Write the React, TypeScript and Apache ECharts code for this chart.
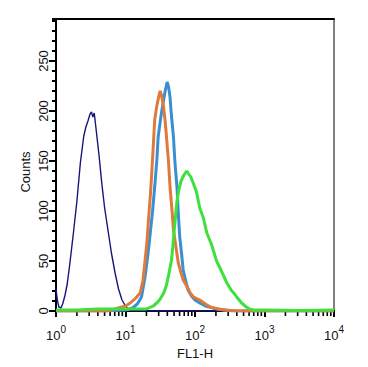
import React, { useEffect, useRef } from "react";
import * as echarts from "echarts";

// FL1-H values and counts for each histogram
const navyX = [1, 1.05, 1.1, 1.18, 1.26, 1.35, 1.45, 1.58, 1.78, 2, 2.24, 2.51, 2.69, 2.88, 3.09, 3.24, 3.39, 3.55, 3.8, 4.17, 4.57, 5.01, 5.62, 6.31, 7.08, 7.94, 8.91, 10, 11.2, 12.6, 30, 300, 10000];
const navyY = [22, 10, 4, 3, 8, 16, 27, 47, 78, 110, 148, 175, 184, 190, 197, 199, 194, 198, 180, 155, 127, 103, 80, 57, 38, 22, 11, 5, 1, 0, 0, 0, 0];

const blueX = [1, 5, 10, 12.6, 14.8, 17, 19.1, 20.9, 22.4, 24.5, 26.3, 28.2, 29.5, 32.4, 34.7, 37.2, 39.8, 41.7, 43.7, 45.7, 49, 51.3, 55, 57.5, 60.3, 64.6, 67.6, 74.1, 79.4, 89.1, 100, 117, 141, 182, 251, 355, 10000];
const blueY = [0, 0, 1, 3, 7, 14, 34, 55, 74, 100, 124, 150, 174, 195, 208, 220, 229, 224, 214, 196, 174, 150, 124, 98, 74, 55, 41, 29, 21, 15, 11, 8, 5, 3, 1, 0, 0];

const orangeX = [1, 5, 6.3, 7.9, 10, 11.7, 14.1, 16.2, 17.8, 19.1, 20.4, 21.4, 22.9, 24, 25.1, 26.3, 28.2, 30.2, 31.6, 33.1, 34.7, 37.2, 38.9, 41.7, 43.7, 46.8, 49, 53.7, 57.5, 63.1, 67.6, 75.9, 85.1, 95.5, 117, 141, 166, 209, 282, 398, 10000];
const orangeY = [0, 0, 1, 3, 5, 8, 13, 18, 30, 50, 70, 91, 118, 141, 165, 191, 205, 215, 220, 215, 208, 190, 174, 148, 124, 100, 81, 62, 48, 38, 31, 25, 18, 14, 11, 7, 4, 2, 1, 0, 0];

const greenX = [1, 2, 4, 7.9, 12.6, 20, 25.1, 28.2, 31.6, 35.5, 38.9, 41.7, 45.7, 47.9, 50.1, 52.5, 55, 58.9, 63.1, 69.2, 75.9, 81.3, 87.1, 95.5, 105, 117, 132, 148, 174, 204, 229, 288, 331, 372, 398, 468, 525, 603, 708, 1000, 3162, 10000];
const greenY = [1, 1, 2, 2, 2, 2, 5, 8, 12, 18, 26, 36, 50, 64, 80, 95, 110, 122, 130, 136, 140, 137, 134, 127, 119, 103, 93, 78, 66, 50, 43, 28, 21, 17, 14, 8, 5, 2, 1, 1, 0.5, 1];

const minorTicksX = [2, 3, 4, 5, 6, 7, 8, 9, 20, 30, 40, 50, 60, 70, 80, 90, 200, 300, 400, 500, 600, 700, 800, 900, 2000, 3000, 4000, 5000, 6000, 7000, 8000, 9000];
const majorTicksY = [0, 50, 100, 150, 200, 250];

const pairs = (xs: number[], ys: number[]) => xs.map((x, i) => [x, ys[i]]);

export default function App() {
  const ref = useRef<HTMLDivElement>(null);
  useEffect(() => {
    const chart = echarts.init(ref.current!, null, { renderer: "svg" });
    const font = "Liberation Sans, Arial, sans-serif";
    const lineSeries = (name: string, xs: number[], ys: number[], color: string, width: number) => ({
      name,
      type: "line",
      data: pairs(xs, ys),
      showSymbol: false,
      symbol: "none",
      clip: true,
      lineStyle: { color, width },
      itemStyle: { color },
    });
    chart.setOption({
      animation: false,
      backgroundColor: "#fff",
      grid: { left: 56, top: 19, right: 34, bottom: 56, show: true, borderColor: "#000", borderWidth: 1 },
      xAxis: [
        {
          type: "log",
          logBase: 10,
          min: 1,
          max: 10000,
          axisLine: { show: true, lineStyle: { color: "#000", width: 2 } },
          axisTick: { show: true, length: 6, lineStyle: { color: "#000", width: 2 } },
          splitLine: { show: false },
          axisLabel: {
            margin: 13,
            color: "#111",
            fontFamily: font,
            formatter: (v: number) => "{b|10}{s|" + Math.round(Math.log10(v)) + "}",
            rich: {
              b: { fontSize: 13, fontFamily: font, color: "#111", verticalAlign: "bottom", lineHeight: 18 },
              s: { fontSize: 10, fontFamily: font, color: "#111", verticalAlign: "top", lineHeight: 12 },
            },
          },
          name: "FL1-H",
          nameLocation: "middle",
          nameGap: 28,
          nameTextStyle: { fontSize: 13, fontFamily: font, color: "#111" },
        },
        {
          type: "value",
          position: "top",
          min: 0,
          max: 1,
          axisLine: { show: true, onZero: false, lineStyle: { color: "#000", width: 2 } },
          axisTick: { show: false },
          axisLabel: { show: false },
          splitLine: { show: false },
        },
      ],
      yAxis: {
        type: "value",
        min: 0,
        max: 292,
        interval: 10,
        axisLine: { show: true, lineStyle: { color: "#000", width: 2 } },
        axisTick: { show: true, length: 4, lineStyle: { color: "#000", width: 2 } },
        splitLine: { show: false },
        axisLabel: {
          rotate: 90,
          margin: 6,
          fontSize: 13,
          fontFamily: font,
          color: "#111",
          formatter: (v: number) => (v % 50 === 0 ? String(v) : ""),
        },
      },
      graphic: [
        {
          type: "text",
          x: 25,
          y: 172,
          rotation: Math.PI / 2,
          style: { text: "Counts", fontSize: 13, fontFamily: font, fill: "#111", align: "center", verticalAlign: "middle" },
        },
      ],
      series: [
        {
          type: "custom",
          silent: true,
          clip: false,
          data: minorTicksX.map((v) => [v, 0]),
          renderItem: (params: any, api: any) => {
            const p = api.coord([api.value(0), 0]);
            return {
              type: "line",
              shape: { x1: p[0], y1: p[1] + 1, x2: p[0], y2: p[1] + 5 },
              style: { stroke: "#000", lineWidth: 1.6 },
            };
          },
        },
        {
          type: "custom",
          silent: true,
          clip: false,
          data: majorTicksY.map((v) => [1, v]),
          renderItem: (params: any, api: any) => {
            const p = api.coord([1, api.value(1)]);
            return {
              type: "line",
              shape: { x1: p[0] - 7, y1: p[1], x2: p[0], y2: p[1] },
              style: { stroke: "#000", lineWidth: 2 },
            };
          },
        },
        lineSeries("navy", navyX, navyY, "#16167a", 1.4),
        lineSeries("blue", blueX, blueY, "#3a8fd2", 3),
        lineSeries("orange", orangeX, orangeY, "#e0793a", 3),
        lineSeries("green", greenX, greenY, "#3ee03e", 3),
      ],
    });
    return () => chart.dispose();
  }, []);
  return <div ref={ref} style={{ width: 368, height: 367, position: "absolute", left: 0, top: 0 }} />;
}
